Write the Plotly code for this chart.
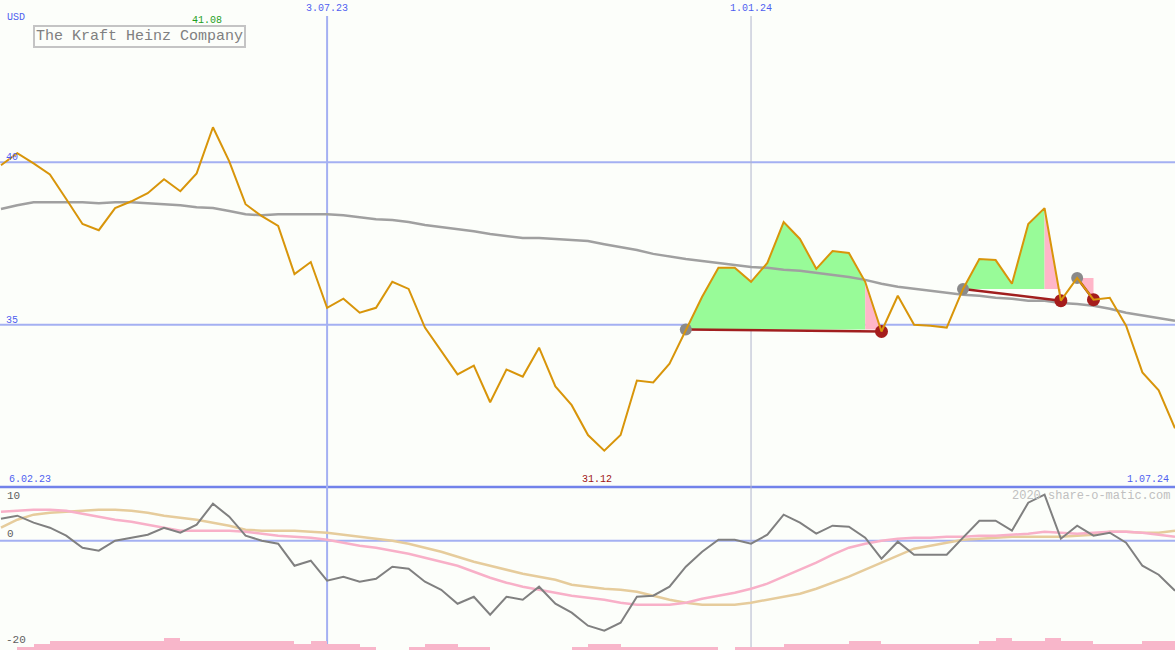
import plotly.graph_objects as go
import pandas as pd

# ---------------- data ----------------
dates = pd.date_range("2023-02-13", periods=73, freq="7D")

price = [39.91, 40.28, 39.97, 39.63, 38.87, 38.10, 37.91, 38.59, 38.80, 39.05,
         39.48, 39.11, 39.66, 41.08, 40.03, 38.71, 38.34, 38.04, 36.56, 36.93,
         35.52, 35.80, 35.37, 35.52, 36.32, 36.10, 34.91, 34.20, 33.47, 33.74,
         32.61, 33.62, 33.40, 34.29, 33.10, 32.52, 31.60, 31.12, 31.60, 33.28,
         33.22, 33.80, 34.85, 35.86, 36.75, 36.75, 36.32, 36.90, 38.16, 37.64,
         36.72, 37.27, 37.21, 36.32, 34.79, 35.89, 35.00, 34.97, 34.91, 36.10,
         37.02, 36.99, 36.26, 38.10, 38.59, 35.74, 36.44, 35.77, 35.83, 34.97,
         33.53, 32.98, 31.81]

ma = [38.56, 38.68, 38.77, 38.77, 38.77, 38.77, 38.74, 38.77, 38.77, 38.74,
      38.71, 38.68, 38.62, 38.59, 38.50, 38.40, 38.37, 38.40, 38.40, 38.40,
      38.40, 38.37, 38.31, 38.25, 38.22, 38.16, 38.07, 38.01, 37.94, 37.88,
      37.79, 37.73, 37.67, 37.67, 37.64, 37.61, 37.58, 37.48, 37.39, 37.30,
      37.18, 37.09, 37.02, 36.96, 36.90, 36.84, 36.78, 36.75, 36.69, 36.66,
      36.60, 36.53, 36.47, 36.38, 36.26, 36.17, 36.10, 36.04, 35.98, 35.92,
      35.89, 35.83, 35.80, 35.74, 35.74, 35.67, 35.64, 35.58, 35.49, 35.37,
      35.28, 35.21, 35.12]

osc_gray = [4.15, 4.72, 3.40, 2.45, 0.94, -1.32, -1.89, 0.00, 0.57, 1.13,
            2.45, 1.51, 3.02, 6.98, 4.53, 0.94, 0.00, -0.57, -4.72, -3.77,
            -7.55, -6.79, -7.74, -7.17, -4.91, -5.28, -7.74, -9.25, -11.89, -10.57,
            -13.96, -10.57, -11.13, -8.68, -11.89, -13.58, -16.04, -16.98, -15.47, -10.57,
            -10.38, -8.68, -4.91, -2.08, 0.19, 0.19, -0.57, 1.13, 4.91, 3.40,
            1.32, 2.83, 2.64, 0.57, -3.40, -0.19, -2.64, -2.64, -2.64, 0.57,
            3.77, 3.77, 1.89, 7.17, 8.68, 0.38, 2.83, 0.94, 1.51, -0.38,
            -4.72, -6.42, -9.43]

osc_pink = [5.47, 5.66, 5.85, 5.85, 5.66, 5.09, 4.53, 3.96, 3.58, 3.02,
            2.45, 1.89, 1.89, 1.89, 1.89, 1.70, 1.32, 0.94, 0.75, 0.57,
            0.19, -0.38, -0.94, -1.32, -1.89, -2.45, -3.21, -3.96, -4.72, -5.85,
            -6.98, -7.92, -8.68, -9.25, -9.81, -10.38, -10.75, -11.13, -11.70, -12.08,
            -12.08, -12.08, -11.70, -10.94, -10.38, -9.81, -9.06, -8.11, -6.79, -5.47,
            -4.15, -2.64, -1.32, -0.57, 0.00, 0.38, 0.57, 0.57, 0.75, 0.75,
            0.94, 0.94, 1.13, 1.32, 1.70, 1.51, 1.32, 1.51, 1.70, 1.70,
            1.51, 1.13, 0.75]

osc_tan = [2.45, 3.96, 4.91, 5.28, 5.47, 5.66, 5.85, 5.85, 5.66, 5.28,
           4.72, 4.34, 3.96, 3.40, 2.83, 2.08, 1.89, 1.89, 1.89, 1.70,
           1.51, 1.13, 0.75, 0.38, 0.00, -0.57, -1.32, -2.08, -3.02, -3.96,
           -4.72, -5.47, -6.23, -6.79, -7.36, -8.30, -8.68, -9.06, -9.25, -9.62,
           -10.38, -11.13, -11.70, -12.08, -12.08, -12.08, -11.70, -11.13, -10.57, -10.00,
           -9.06, -7.92, -6.79, -5.47, -4.15, -2.83, -1.51, -0.94, -0.38, 0.19,
           0.38, 0.57, 0.75, 0.75, 0.75, 0.75, 0.94, 1.13, 1.70, 1.70,
           1.51, 1.51, 1.89]

volume_level = [0, 1, 2, 3, 3, 3, 3, 3, 3, 3,
                4, 3, 3, 3, 3, 3, 3, 3, 2, 3,
                2, 2, 1, 0, 0, 1, 2, 2, 1, 1,
                0, 0, 0, 0, 0, 1, 2, 2, 1, 1,
                1, 1, 1, 1, 0, 1, 1, 1, 2, 2,
                2, 2, 3, 3, 2, 2, 2, 2, 2, 2,
                3, 4, 3, 3, 4, 3, 3, 2, 2, 2,
                3, 3]

entry_idx = [42, 59, 66]
exit_idx = [54, 65, 67]

title_text = "The Kraft Heinz Company"
currency = "USD"
date_marks = ["2023-07-03", "2024-01-01"]
date_mark_labels = ["3.07.23", "1.01.24"]
start_label = "6.02.23"
end_label = "1.07.24"
top_ticks = [40, 35]
low_ticks = [10, 0, -20]
credit = "2020 share-o-matic.com"

# ---------------- style ----------------
W, H = 1175, 650
BG = "#fcfefa"
MONO = "Liberation Mono"
PRICE_C = "#d8950a"
MA_C = "#a0a0a0"
GRID_C = "#a4b0f2"
SEP_C = "#7282ea"
LABEL_BLUE = "#4f5ff0"


def py(pix):
    return 1 - pix / H


def px(pix):
    return pix / W


split = 163 / H  # lower panel height fraction

fig = go.Figure()

# trade fills (green / pink)
for e, x in zip(entry_idx, exit_idx):
    ep = price[e]
    if x - 1 > e:
        gx = list(dates[e:x]) + [dates[x - 1], dates[e]]
        gy = price[e:x] + [ep, ep]
        fig.add_trace(go.Scatter(x=gx, y=gy, mode="lines", fill="toself",
                                 fillcolor="#98fb98", line=dict(width=0),
                                 hoverinfo="skip", showlegend=False))
    pxs = [dates[x - 1], dates[x], dates[x], dates[x - 1]]
    pys = [price[x - 1], price[x], ep, ep]
    fig.add_trace(go.Scatter(x=pxs, y=pys, mode="lines", fill="toself",
                             fillcolor="#ffb6c8", line=dict(width=0),
                             hoverinfo="skip", showlegend=False))

# moving average
fig.add_trace(go.Scatter(x=dates, y=ma, mode="lines",
                         line=dict(color=MA_C, width=2.5), hoverinfo="skip",
                         showlegend=False))

# trade lines and markers
for e, x in zip(entry_idx, exit_idx):
    fig.add_trace(go.Scatter(x=[dates[e], dates[x]], y=[price[e], price[x]],
                             mode="lines", line=dict(color="#a11f1f", width=2.5),
                             hoverinfo="skip", showlegend=False))
    fig.add_trace(go.Scatter(x=[dates[e]], y=[price[e]], mode="markers",
                             marker=dict(color="#8a8a8a", size=12),
                             hoverinfo="skip", showlegend=False))
    fig.add_trace(go.Scatter(x=[dates[x]], y=[price[x]], mode="markers",
                             marker=dict(color="#a51c1c", size=13),
                             hoverinfo="skip", showlegend=False))

# price
fig.add_trace(go.Scatter(x=dates, y=price, mode="lines",
                         line=dict(color=PRICE_C, width=2), hoverinfo="skip",
                         showlegend=False))

# lower panel: volume bars
fig.add_trace(go.Bar(x=dates[:72], y=volume_level, yaxis="y3",
                     width=7 * 24 * 3600 * 1000, offset=0,
                     marker=dict(color="#f8b6ca", line=dict(width=0)),
                     hoverinfo="skip", showlegend=False))

# lower panel oscillators
fig.add_trace(go.Scatter(x=dates, y=osc_tan, yaxis="y2", mode="lines",
                         line=dict(color="#e6cc9c", width=2.5),
                         hoverinfo="skip", showlegend=False))
fig.add_trace(go.Scatter(x=dates, y=osc_pink, yaxis="y2", mode="lines",
                         line=dict(color="#f8b0c8", width=2.5),
                         hoverinfo="skip", showlegend=False))
fig.add_trace(go.Scatter(x=dates, y=osc_gray, yaxis="y2", mode="lines",
                         line=dict(color="#808080", width=2),
                         hoverinfo="skip", showlegend=False))

shapes = []
for t in top_ticks:
    shapes.append(dict(type="line", xref="paper", yref="y", x0=0, x1=1, y0=t, y1=t,
                       line=dict(color=GRID_C, width=2), layer="below"))
shapes.append(dict(type="line", xref="paper", yref="y2", x0=0, x1=1, y0=0, y1=0,
                   line=dict(color=GRID_C, width=2), layer="below"))
shapes.append(dict(type="line", xref="paper", yref="paper", x0=0, x1=1,
                   y0=split, y1=split, line=dict(color=SEP_C, width=2.5), layer="below"))
shapes.append(dict(type="line", xref="x", yref="paper", x0=date_marks[0], x1=date_marks[0],
                   y0=0, y1=py(16), line=dict(color=GRID_C, width=2), layer="below"))
shapes.append(dict(type="line", xref="x", yref="paper", x0=date_marks[1], x1=date_marks[1],
                   y0=0, y1=py(16), line=dict(color="#b0b4cc", width=1), layer="below"))

small = dict(family=MONO, size=10, color=LABEL_BLUE)
ann = []
ann.append(dict(text=currency, xref="paper", yref="paper", x=px(5), y=py(18),
                xanchor="left", yanchor="middle", showarrow=False, font=small))
for d, lab in zip(date_marks, date_mark_labels):
    ann.append(dict(text=lab, xref="x", yref="paper", x=d, y=py(9),
                    xanchor="center", yanchor="middle", showarrow=False, font=small))
for t in top_ticks:
    ann.append(dict(text=str(t), xref="paper", yref="y", x=px(4), y=t,
                    xanchor="left", yanchor="bottom", yshift=-3, showarrow=False, font=small))
ann.append(dict(text=start_label, xref="paper", yref="paper", x=px(7), y=py(479),
                xanchor="left", yanchor="middle", showarrow=False, font=small))
ann.append(dict(text=end_label, xref="paper", yref="paper", x=px(1171), y=py(479),
                xanchor="right", yanchor="middle", showarrow=False, font=small))

imax = price.index(max(price))
imin = price.index(min(price))
ann.append(dict(text=f"{max(price):.2f}", xref="x", yref="paper", x=dates[imax], y=py(21),
                xanchor="center", yanchor="middle", xshift=-6, showarrow=False,
                font=dict(family=MONO, size=10, color="#1ea01e")))
ann.append(dict(text=f"{min(price):.2f}", xref="x", yref="paper", x=dates[imin], y=py(479),
                xanchor="center", yanchor="middle", xshift=-7, showarrow=False,
                font=dict(family=MONO, size=10, color="#a01414")))

gray_small = dict(family=MONO, size=11, color="#606060")
ann.append(dict(text=str(low_ticks[0]), xref="paper", yref="paper", x=px(5), y=py(496),
                xanchor="left", yanchor="middle", showarrow=False, font=gray_small))
ann.append(dict(text=str(low_ticks[1]), xref="paper", yref="y2", x=px(5), y=low_ticks[1],
                xanchor="left", yanchor="bottom", yshift=-1, showarrow=False, font=gray_small))
ann.append(dict(text=str(low_ticks[2]), xref="paper", yref="paper", x=px(4), y=py(640),
                xanchor="left", yanchor="middle", showarrow=False, font=gray_small))
ann.append(dict(text=credit, xref="paper", yref="paper", x=px(1172), y=py(496),
                xanchor="right", yanchor="middle", showarrow=False,
                font=dict(family=MONO, size=12, color="#c0c0c0")))
ann.append(dict(text=title_text, xref="paper", yref="paper", x=px(33), y=py(25),
                xanchor="left", yanchor="top", showarrow=False,
                font=dict(family=MONO, size=15, color="#808080"),
                bordercolor="#c4c4c4", borderwidth=2, borderpad=1, bgcolor=BG))

fig.update_layout(
    width=W, height=H,
    margin=dict(l=0, r=0, t=0, b=0),
    paper_bgcolor=BG, plot_bgcolor=BG,
    showlegend=False,
    bargap=0,
    xaxis=dict(type="date", range=["2023-02-12 14:00:00", "2024-07-01 00:00:00"],
               visible=False, showgrid=False, zeroline=False, anchor="y2"),
    yaxis=dict(domain=[split, 1], range=[30, 45], visible=False,
               showgrid=False, zeroline=False),
    yaxis2=dict(domain=[0, split], range=[-20.62, 10.13], visible=False,
                showgrid=False, zeroline=False),
    yaxis3=dict(domain=[0, split], range=[0, 163 / 3], visible=False,
                overlaying="y2", showgrid=False, zeroline=False),
    shapes=shapes,
    annotations=ann,
)

fig.write_html(
    "out.html",
    config={"displayModeBar": False},
    post_script="document.body.style.margin='0px';document.body.style.overflow='hidden';"
                "document.documentElement.style.overflow='hidden';",
)
